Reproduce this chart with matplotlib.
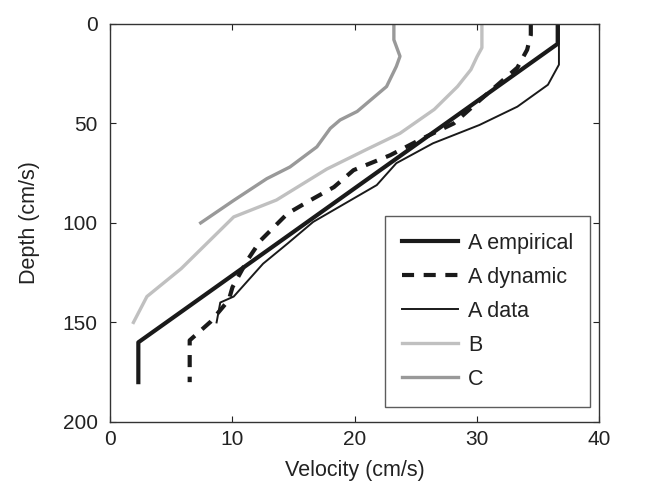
import matplotlib.pyplot as plt

plt.rcParams['font.family'] = ['Liberation Sans', 'DejaVu Sans']

# A empirical
emp_v = [36.6, 36.6, 2.3, 2.3]
emp_d = [0, 10, 160, 180]

# A dynamic
dyn_v = [34.4, 34.4, 34.1, 33.3, 30.3, 28.1, 25.4, 22.9, 19.9, 18.3, 16.4,
         14.5, 12.3, 11.2, 10.0, 9.7, 8.2, 6.5, 6.5]
dyn_d = [0, 5.5, 13, 22, 38, 50, 58, 66, 73.5, 82, 88.5,
         95.3, 108.8, 118.9, 132.3, 138.7, 149.7, 159, 180]

# A data
dat_v = [36.7, 36.7, 35.8, 33.3, 30.2, 26.4, 23.4, 21.8, 16.6, 14.5, 12.5,
         10.9, 10.1, 9.0, 8.7]
dat_d = [0, 20.5, 30.6, 41.6, 50.8, 60, 70, 81, 99.5, 110.4, 120.5,
         131.5, 137, 140, 150]

# B
b_v = [30.4, 30.4, 30.0, 29.5, 28.4, 26.5, 23.7, 21.0, 17.7, 13.6, 10.1,
       5.8, 3.0, 1.9]
b_d = [0, 12, 16.5, 23, 31.5, 43, 55, 63, 73, 88.5, 97, 123, 137, 150]

# C
c_v = [23.2, 23.2, 23.7, 23.4, 22.6, 20.2, 18.8, 18.0, 16.9, 14.7, 12.8,
       10.1, 7.4]
c_d = [0, 8, 16.3, 21.4, 31.5, 44, 48.3, 52.5, 61.8, 71.9, 77.8, 88.7, 100]

fs = 15.5

fig = plt.figure(figsize=(6.6, 4.97), dpi=100)
ax = fig.add_axes([0.167, 0.151, 0.741, 0.801])

ax.plot(emp_v, emp_d, color='#1a1a1a', lw=3.0, label='A empirical')
ax.plot(dyn_v, dyn_d, color='#1a1a1a', lw=3.0, dashes=(2.9, 2.3),
        label='A dynamic')
ax.plot(dat_v, dat_d, color='#1a1a1a', lw=1.4, label='A data')
ax.plot(b_v, b_d, color='#c0c0c0', lw=2.4, label='B')
ax.plot(c_v, c_d, color='#999999', lw=2.4, label='C')

ax.set_xlim(0, 40)
ax.set_ylim(200, 0)
ax.set_xticks([0, 10, 20, 30, 40])
ax.set_yticks([0, 50, 100, 150, 200])
ax.tick_params(direction='in', top=True, right=True, labelsize=15,
               length=4, colors='#222222')
ax.tick_params(axis='x', pad=6)
ax.tick_params(axis='y', pad=9)
for s in ax.spines.values():
    s.set_color('#333333')
    s.set_linewidth(1.0)
ax.set_xlabel('Velocity (cm/s)', fontsize=fs, color='#222222', labelpad=8)
ax.set_ylabel('Depth (cm/s)', fontsize=fs, color='#222222', labelpad=16)

leg = ax.legend(loc='lower right', bbox_to_anchor=(0.982, 0.038),
                borderaxespad=0, fontsize=fs, frameon=True, fancybox=False,
                handlelength=2.6, labelspacing=0.6, handletextpad=0.45,
                borderpad=0.8)
leg.get_frame().set_edgecolor('#333333')
leg.get_frame().set_linewidth(1.0)
for t in leg.get_texts():
    t.set_color('#222222')

fig.savefig('out.png', dpi=100)
